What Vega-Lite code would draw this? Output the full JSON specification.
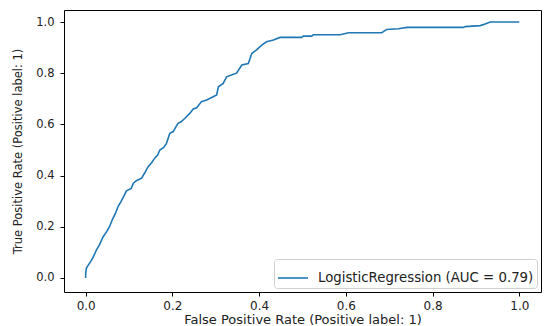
{
  "$schema": "https://vega.github.io/schema/vega-lite/v6.json",
  "autosize": {"type": "none"},
  "width": 477,
  "height": 282,
  "padding": {"left": 64, "top": 10, "right": 8, "bottom": 34},
  "background": "white",
  "config": {
    "view": {"stroke": "black", "strokeWidth": 1},
    "font": "DejaVu Sans",
    "axis": {
      "grid": false,
      "domain": false,
      "tickColor": "black",
      "tickSize": 4,
      "labelColor": "#222",
      "labelFontSize": 11.5,
      "labelFont": "DejaVu Sans",
      "titleFont": "DejaVu Sans",
      "titleFontWeight": "normal",
      "titleFontSize": 11.5,
      "titleColor": "#222",
      "labelPadding": 4
    }
  },
  "data": {
    "values": [
      {"fpr": 0, "tpr": 0, "s": "LogisticRegression (AUC = 0.79)"},
      {"fpr": 0, "tpr": 0.02, "s": "LogisticRegression (AUC = 0.79)"},
      {"fpr": 0.002, "tpr": 0.04, "s": "LogisticRegression (AUC = 0.79)"},
      {"fpr": 0.006, "tpr": 0.05, "s": "LogisticRegression (AUC = 0.79)"},
      {"fpr": 0.01, "tpr": 0.06, "s": "LogisticRegression (AUC = 0.79)"},
      {"fpr": 0.017, "tpr": 0.08, "s": "LogisticRegression (AUC = 0.79)"},
      {"fpr": 0.025, "tpr": 0.11, "s": "LogisticRegression (AUC = 0.79)"},
      {"fpr": 0.032, "tpr": 0.13, "s": "LogisticRegression (AUC = 0.79)"},
      {"fpr": 0.04, "tpr": 0.16, "s": "LogisticRegression (AUC = 0.79)"},
      {"fpr": 0.048, "tpr": 0.18, "s": "LogisticRegression (AUC = 0.79)"},
      {"fpr": 0.055, "tpr": 0.2, "s": "LogisticRegression (AUC = 0.79)"},
      {"fpr": 0.062, "tpr": 0.23, "s": "LogisticRegression (AUC = 0.79)"},
      {"fpr": 0.068, "tpr": 0.25, "s": "LogisticRegression (AUC = 0.79)"},
      {"fpr": 0.075, "tpr": 0.28, "s": "LogisticRegression (AUC = 0.79)"},
      {"fpr": 0.082, "tpr": 0.3, "s": "LogisticRegression (AUC = 0.79)"},
      {"fpr": 0.088, "tpr": 0.32, "s": "LogisticRegression (AUC = 0.79)"},
      {"fpr": 0.094, "tpr": 0.34, "s": "LogisticRegression (AUC = 0.79)"},
      {"fpr": 0.105, "tpr": 0.35, "s": "LogisticRegression (AUC = 0.79)"},
      {"fpr": 0.11, "tpr": 0.37, "s": "LogisticRegression (AUC = 0.79)"},
      {"fpr": 0.117, "tpr": 0.38, "s": "LogisticRegression (AUC = 0.79)"},
      {"fpr": 0.129, "tpr": 0.39, "s": "LogisticRegression (AUC = 0.79)"},
      {"fpr": 0.136, "tpr": 0.41, "s": "LogisticRegression (AUC = 0.79)"},
      {"fpr": 0.144, "tpr": 0.435, "s": "LogisticRegression (AUC = 0.79)"},
      {"fpr": 0.152, "tpr": 0.45, "s": "LogisticRegression (AUC = 0.79)"},
      {"fpr": 0.16, "tpr": 0.47, "s": "LogisticRegression (AUC = 0.79)"},
      {"fpr": 0.166, "tpr": 0.48, "s": "LogisticRegression (AUC = 0.79)"},
      {"fpr": 0.171, "tpr": 0.5, "s": "LogisticRegression (AUC = 0.79)"},
      {"fpr": 0.18, "tpr": 0.51, "s": "LogisticRegression (AUC = 0.79)"},
      {"fpr": 0.186, "tpr": 0.525, "s": "LogisticRegression (AUC = 0.79)"},
      {"fpr": 0.19, "tpr": 0.545, "s": "LogisticRegression (AUC = 0.79)"},
      {"fpr": 0.194, "tpr": 0.565, "s": "LogisticRegression (AUC = 0.79)"},
      {"fpr": 0.202, "tpr": 0.572, "s": "LogisticRegression (AUC = 0.79)"},
      {"fpr": 0.208, "tpr": 0.59, "s": "LogisticRegression (AUC = 0.79)"},
      {"fpr": 0.213, "tpr": 0.604, "s": "LogisticRegression (AUC = 0.79)"},
      {"fpr": 0.22, "tpr": 0.61, "s": "LogisticRegression (AUC = 0.79)"},
      {"fpr": 0.229, "tpr": 0.624, "s": "LogisticRegression (AUC = 0.79)"},
      {"fpr": 0.24, "tpr": 0.643, "s": "LogisticRegression (AUC = 0.79)"},
      {"fpr": 0.248, "tpr": 0.66, "s": "LogisticRegression (AUC = 0.79)"},
      {"fpr": 0.256, "tpr": 0.665, "s": "LogisticRegression (AUC = 0.79)"},
      {"fpr": 0.267, "tpr": 0.689, "s": "LogisticRegression (AUC = 0.79)"},
      {"fpr": 0.279, "tpr": 0.695, "s": "LogisticRegression (AUC = 0.79)"},
      {"fpr": 0.294, "tpr": 0.708, "s": "LogisticRegression (AUC = 0.79)"},
      {"fpr": 0.302, "tpr": 0.715, "s": "LogisticRegression (AUC = 0.79)"},
      {"fpr": 0.306, "tpr": 0.747, "s": "LogisticRegression (AUC = 0.79)"},
      {"fpr": 0.317, "tpr": 0.76, "s": "LogisticRegression (AUC = 0.79)"},
      {"fpr": 0.325, "tpr": 0.786, "s": "LogisticRegression (AUC = 0.79)"},
      {"fpr": 0.336, "tpr": 0.793, "s": "LogisticRegression (AUC = 0.79)"},
      {"fpr": 0.348, "tpr": 0.8, "s": "LogisticRegression (AUC = 0.79)"},
      {"fpr": 0.36, "tpr": 0.832, "s": "LogisticRegression (AUC = 0.79)"},
      {"fpr": 0.375, "tpr": 0.838, "s": "LogisticRegression (AUC = 0.79)"},
      {"fpr": 0.383, "tpr": 0.877, "s": "LogisticRegression (AUC = 0.79)"},
      {"fpr": 0.394, "tpr": 0.891, "s": "LogisticRegression (AUC = 0.79)"},
      {"fpr": 0.406, "tpr": 0.91, "s": "LogisticRegression (AUC = 0.79)"},
      {"fpr": 0.417, "tpr": 0.923, "s": "LogisticRegression (AUC = 0.79)"},
      {"fpr": 0.433, "tpr": 0.93, "s": "LogisticRegression (AUC = 0.79)"},
      {"fpr": 0.448, "tpr": 0.94, "s": "LogisticRegression (AUC = 0.79)"},
      {"fpr": 0.498, "tpr": 0.94, "s": "LogisticRegression (AUC = 0.79)"},
      {"fpr": 0.502, "tpr": 0.945, "s": "LogisticRegression (AUC = 0.79)"},
      {"fpr": 0.521, "tpr": 0.945, "s": "LogisticRegression (AUC = 0.79)"},
      {"fpr": 0.525, "tpr": 0.95, "s": "LogisticRegression (AUC = 0.79)"},
      {"fpr": 0.587, "tpr": 0.95, "s": "LogisticRegression (AUC = 0.79)"},
      {"fpr": 0.606, "tpr": 0.958, "s": "LogisticRegression (AUC = 0.79)"},
      {"fpr": 0.683, "tpr": 0.958, "s": "LogisticRegression (AUC = 0.79)"},
      {"fpr": 0.694, "tpr": 0.971, "s": "LogisticRegression (AUC = 0.79)"},
      {"fpr": 0.721, "tpr": 0.974, "s": "LogisticRegression (AUC = 0.79)"},
      {"fpr": 0.741, "tpr": 0.979, "s": "LogisticRegression (AUC = 0.79)"},
      {"fpr": 0.871, "tpr": 0.979, "s": "LogisticRegression (AUC = 0.79)"},
      {"fpr": 0.875, "tpr": 0.982, "s": "LogisticRegression (AUC = 0.79)"},
      {"fpr": 0.91, "tpr": 0.986, "s": "LogisticRegression (AUC = 0.79)"},
      {"fpr": 0.921, "tpr": 0.992, "s": "LogisticRegression (AUC = 0.79)"},
      {"fpr": 0.933, "tpr": 1.0, "s": "LogisticRegression (AUC = 0.79)"},
      {"fpr": 1.0, "tpr": 1.0, "s": "LogisticRegression (AUC = 0.79)"}
    ]
  },
  "mark": {"type": "line", "strokeWidth": 1.6, "interpolate": "linear"},
  "encoding": {
    "x": {
      "field": "fpr", "type": "quantitative",
      "scale": {"domain": [-0.05, 1.05], "nice": false, "zero": false},
      "axis": {"values": [0, 0.2, 0.4, 0.6, 0.8, 1.0], "format": ".1f", "title": "False Positive Rate (Positive label: 1)", "titlePadding": 2, "labelFontSize": 12, "titleFontSize": 13}
    },
    "y": {
      "field": "tpr", "type": "quantitative",
      "scale": {"domain": [-0.055, 1.047], "nice": false, "zero": false},
      "axis": {"values": [0, 0.2, 0.4, 0.6, 0.8, 1.0], "format": ".1f", "title": "True Positive Rate (Positive label: 1)", "titlePadding": 12, "labelPadding": 6}
    },
    "order": {"field": "fpr", "type": "quantitative"},
    "color": {
      "field": "s", "type": "nominal",
      "scale": {"range": ["#1f77b4"]},
      "legend": {
        "title": null,
        "orient": "bottom-right",
        "offset": 4,
        "symbolType": "stroke",
        "symbolSize": 900,
        "symbolStrokeWidth": 1.6,
        "labelFontSize": 13.3,
        "labelLimit": 400,
        "labelColor": "#222",
        "labelFont": "DejaVu Sans",
        "labelOffset": 9,
        "fillColor": "white",
        "strokeColor": "#d0d0d0",
        "cornerRadius": 3,
        "padding": 3
      }
    }
  }
}
